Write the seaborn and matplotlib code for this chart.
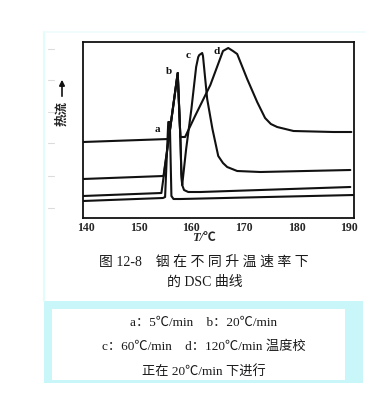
import matplotlib
matplotlib.use("Agg")
import matplotlib.pyplot as plt
from matplotlib.patches import Rectangle, FancyArrowPatch
from matplotlib.lines import Line2D
import seaborn as sns
import pandas as pd

# ---- data ----
a_T = [139.4, 154.6, 155.0, 155.6, 155.9, 156.2, 156.6, 158.0, 190.9]
a_y = [17, 20, 21, 96, 96, 22, 19, 19, 23]

b_T = [139.4, 154.3, 157.4, 157.9, 158.1, 158.25, 158.6, 159.4, 161.7, 190.2]
b_y = [22, 25, 145, 81, 44, 33, 28, 26, 26, 31]

c_T = [139.4, 154.7, 157.4, 157.9, 158.1, 158.25, 159.0, 160.0, 160.9, 161.3,
       161.5, 162.05, 162.2, 163.0, 164.0, 165.1, 166.0, 166.8, 168.7, 173.1, 190.2]
c_y = [39, 42, 145, 81, 44, 33, 69, 109, 151, 161,
       163, 165, 162, 119, 89, 62, 55, 51, 47, 46, 48]

d_T = [139.4, 155.7, 157.4, 157.9, 158.8, 160.7, 163.6, 166.0, 167.0, 167.9,
       168.7, 170.6, 172.5, 174.0, 175.1, 176.3, 179.4, 187.0, 190.4]
d_y = [76, 79, 145, 81, 81, 102, 133, 167, 170, 167,
       164, 139, 116, 100, 94, 91, 87, 86, 86]

curve_names = ["a", "b", "c", "d"]
x_ticks = [140, 150, 160, 170, 180, 190]

caption1 = "图 12-8　铟 在 不 同 升 温 速 率 下"
caption2 = "的 DSC 曲线"
note_lines = ["a：5℃/min　b：20℃/min",
              "c：60℃/min　d：120℃/min 温度校",
              "正在 20℃/min 下进行"]

sns.set_style("white")
plt.rcParams["font.family"] = ["Liberation Serif", "Noto Sans CJK SC", "DejaVu Sans"]

W, H = 373, 414
fig = plt.figure(figsize=(W / 100, H / 100), dpi=100)
fig.patch.set_facecolor("white")

def fx(px):
    return px / W

def fy(py):
    return 1 - py / H

# decorative scan frame
cyan = "#c9f6f8"
fig.add_artist(Line2D([fx(44), fx(44)], [fy(33), fy(302)], color="#e2fbfb", lw=1.5))
fig.add_artist(Line2D([fx(44), fx(365)], [fy(33), fy(33)], color="#eefcfc", lw=1.2))
fig.add_artist(Rectangle((fx(44), fy(384)), fx(363 - 44), (384 - 302) / H,
                         facecolor=cyan, edgecolor="none"))
fig.add_artist(Rectangle((fx(52), fy(381)), fx(345 - 52), (381 - 310) / H,
                         facecolor="white", edgecolor="none"))
for py in [50, 81, 113, 144, 177, 209]:
    fig.add_artist(Line2D([fx(48), fx(54)], [fy(py), fy(py)], color="#dcdcdc", lw=0.8))

ax = fig.add_axes([fx(83), fy(219), fx(354 - 83), (219 - 43) / H])

rows = []
for name, T, y in zip(curve_names, [a_T, b_T, c_T, d_T], [a_y, b_y, c_y, d_y]):
    for t, v in zip(T, y):
        rows.append({"T": t, "y": v, "curve": name})
df = pd.DataFrame(rows)

for name in curve_names:
    sub = df[df["curve"] == name]
    sns.lineplot(data=sub, x="T", y="y", sort=False, estimator=None,
                 color="#111111", lw=1.5, ax=ax)

ax.set_xlim(139.4, 190.9)
ax.set_ylim(0, 176)
ax.set_xticks(x_ticks)
ax.set_xticklabels([str(t) for t in x_ticks], fontsize=8.5, fontweight="bold",
                   family="Liberation Serif")
ax.set_yticks([])
ax.tick_params(axis="x", length=0, pad=2)
ax.set_xlabel("")
ax.set_ylabel("")
for s in ax.spines.values():
    s.set_color("#111111")
    s.set_linewidth(1.3)

# curve labels
lab_pos = {"a": (153.5, 90), "b": (155.8, 148), "c": (159.4, 164), "d": (164.8, 168)}
for name in curve_names:
    ax.text(*lab_pos[name], name, fontsize=8, fontweight="bold",
            family="Liberation Serif", ha="center", va="center", color="#111111")

# y label with arrow
fig.text(fx(62), fy(113), "热流", rotation=90, ha="center", va="center",
         fontsize=9, family=["Noto Sans CJK SC"], color="#222222", fontweight="bold")
fig.add_artist(FancyArrowPatch((fx(62), fy(100)), (fx(62), fy(78)),
               transform=fig.transFigure, arrowstyle="-|>", mutation_scale=8,
               color="#111111", lw=1.2))

# axis title
fig.text(fx(204), fy(238), "T/℃", ha="center", va="center", fontsize=9,
         fontweight="bold", style="italic", family=["Liberation Serif", "Noto Sans CJK SC"])

# caption
fig.text(fx(204), fy(262), caption1, ha="center", va="center", fontsize=10,
         family=["Liberation Serif", "Noto Sans CJK SC"], color="#1a1a1a")
fig.text(fx(205), fy(282), caption2, ha="center", va="center", fontsize=10,
         family=["Liberation Serif", "Noto Sans CJK SC"], color="#1a1a1a")

for py, line in zip([323, 347, 371], note_lines):
    fig.text(fx(204), fy(py), line, ha="center", va="center", fontsize=9.5,
             family=["Liberation Serif", "Noto Sans CJK SC"], color="#1a1a1a")

fig.savefig("out.png", dpi=100, facecolor="white")
